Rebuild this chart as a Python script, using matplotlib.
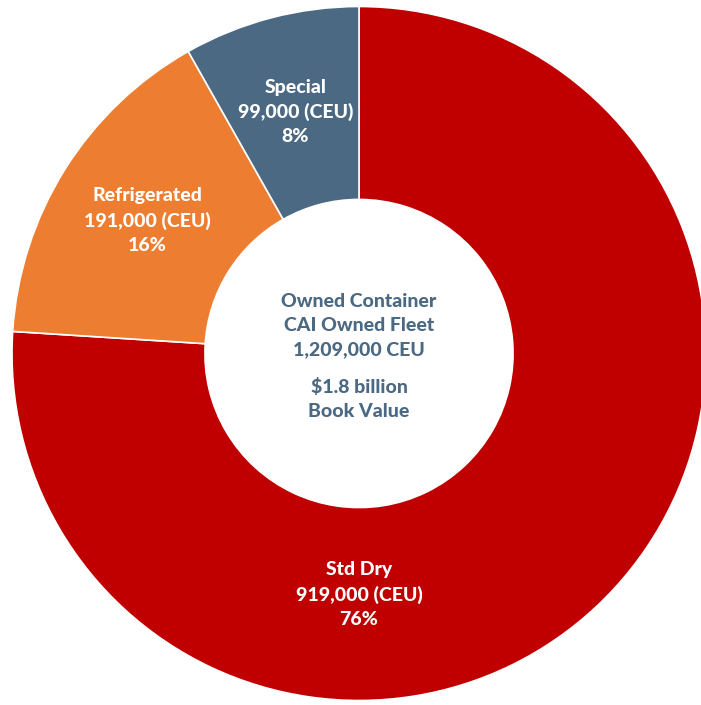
import numpy as np
import matplotlib.pyplot as plt

categories = ["Std Dry", "Refrigerated", "Special"]
ceu = [919000, 191000, 99000]
colors = ["#C00000", "#ED7D31", "#4B6983"]
center_top = ["Owned Container", "CAI Owned Fleet", "1,209,000 CEU"]
center_bottom = ["$1.8 billion", "Book Value"]

plt.rcParams["font.family"] = ["Lato", "DejaVu Sans"]

W, H, dpi = 701, 705, 100
cx, cy, R = 359, 353.5, 347  # pixel centre / radius of the ring

fig = plt.figure(figsize=(W / dpi, H / dpi), dpi=dpi)
ax = fig.add_axes([0, 0, 1, 1])

wedges, _ = ax.pie(ceu, colors=colors, startangle=90, counterclock=False,
                   radius=1, wedgeprops=dict(width=0.556, edgecolor="white", linewidth=1.2))

ax.set_aspect("auto")
ax.set_xlim(-cx / R, (W - cx) / R)
ax.set_ylim((cy - H) / R, cy / R)
ax.axis("off")

fs = 14
ls = 1.5
total = sum(ceu)
for i, (name, v, w) in enumerate(zip(categories, ceu, wedges)):
    pct = v / total
    txt = f"{name}\n{v:,} (CEU)\n{pct:.0%}"
    if i == 0:
        ang, r = -90, 0.695
    else:
        ang, r = (w.theta1 + w.theta2) / 2, 0.72
    x, y = r * np.cos(np.radians(ang)), r * np.sin(np.radians(ang))
    ax.text(x, y, txt, ha="center", va="center", color="white",
            fontsize=fs, fontweight="black", linespacing=ls)

ax.text(0, 0.08, "\n".join(center_top), ha="center", va="center",
        color="#4B6983", fontsize=fs, fontweight="black", linespacing=ls)
ax.text(0, -0.13, "\n".join(center_bottom), ha="center", va="center",
        color="#4B6983", fontsize=fs, fontweight="black", linespacing=ls)

fig.savefig("out.png", dpi=dpi)
